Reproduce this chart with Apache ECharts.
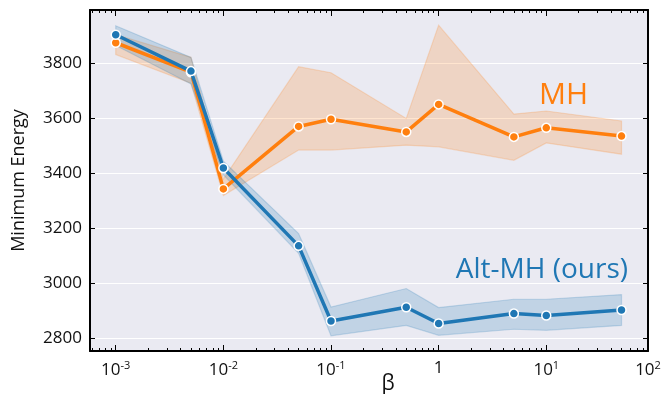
<!doctype html>
<html>
<head>
<meta charset="utf-8">
<title>Minimum Energy vs beta</title>
<script src="https://cdn.jsdelivr.net/npm/echarts@6/dist/echarts.min.js"></script>
<style>
  html, body { margin: 0; padding: 0; background: #fff; }
  #main { width: 672px; height: 394px; }
</style>
</head>
<body>
<div id="main"></div>
<script>

// beta values and results
var beta     = [0.001, 0.005, 0.01, 0.05, 0.1, 0.5, 1, 5, 10, 50];
var mhMean   = [3875, 3768, 3344, 3571, 3597, 3551, 3651, 3533, 3566, 3536];
var mhLow    = [3832, 3728, 3320, 3485, 3485, 3503, 3497, 3448, 3511, 3470];
var mhHigh   = [3905, 3822, 3380, 3788, 3766, 3600, 3939, 3616, 3627, 3591];
var altMean  = [3904, 3772, 3420, 3137, 2864, 2914, 2855, 2891, 2884, 2904];
var altLow   = [3865, 3725, 3395, 3110, 2810, 2848, 2812, 2834, 2830, 2848];
var altHigh  = [3937, 3822, 3445, 3182, 2915, 2982, 2913, 2943, 2943, 2960];

var yTicks = [2800, 3000, 3200, 3400, 3600, 3800];
var xTickExp = [-3, -2, -1, 0, 1, 2];

var X_MIN = -3.239, X_MAX = 1.945;
var Y_MIN = 2755, Y_MAX = 3994;

var ORANGE = '#ff7f0e', BLUE = '#1f77b4';
var FONT = 'Open Sans';

var lx = beta.map(function (b) { return Math.log10(b); });

var minorTicks = [];
for (var d = -4; d <= 1; d++) {
    for (var k = 2; k <= 9; k++) {
        var v = d + Math.log10(k);
        if (v > X_MIN && v < X_MAX) minorTicks.push(v);
    }
}
var majorTicks = xTickExp.filter(function (e) { return e < X_MAX; });
var labelPos = xTickExp.map(function (e) { return Math.min(e, X_MAX); });

function fmtX(v) {
    var e = Math.round(v);
    if (e === 0) return '{b|1}';
    return '{b|10}{s|' + e + '}';
}

function band(lo, hi, fill) {
    return {
        type: 'custom',
        z: 1,
        clip: true,
        silent: true,
        data: lx.map(function (x, i) { return [x, lo[i], hi[i]]; }),
        encode: { x: 0, y: [1, 2] },
        renderItem: function (params, api) {
            if (params.dataIndex !== 0) return null;
            var pts = [], i;
            for (i = 0; i < lx.length; i++) pts.push(api.coord([lx[i], hi[i]]));
            for (i = lx.length - 1; i >= 0; i--) pts.push(api.coord([lx[i], lo[i]]));
            return {
                type: 'polygon',
                shape: { points: pts },
                style: { fill: fill, stroke: fill, lineWidth: 1.2 }
            };
        }
    };
}

function line(vals, color, z) {
    return {
        type: 'line',
        z: z,
        data: lx.map(function (x, i) { return [x, vals[i]]; }),
        symbol: 'circle',
        symbolSize: 9,
        showSymbol: true,
        lineStyle: { color: color, width: 3.5 },
        itemStyle: { color: color, borderColor: '#fff', borderWidth: 1.5 }
    };
}

var tickBase = { show: true, inside: true, lineStyle: { color: '#000', width: 1 } };

function xAxisDef(pos, ticks, len, showLine, showLabel) {
    return {
        type: 'value',
        position: pos,
        min: X_MIN,
        max: X_MAX,
        axisLine: { show: showLine, onZero: false, lineStyle: { color: '#000', width: 2 } },
        axisTick: Object.assign({}, tickBase, { length: len, customValues: ticks }),
        axisLabel: showLabel ? {
            show: true,
            customValues: labelPos,
            margin: 9,
            formatter: fmtX,
            rich: {
                b: { fontFamily: FONT, fontSize: 17, color: '#111' },
                s: { fontFamily: FONT, fontSize: 11, color: '#111', padding: [0, 0, 9, 0] }
            }
        } : { show: false },
        splitLine: { show: false },
        name: showLabel ? 'β' : '',
        nameLocation: 'middle',
        nameGap: 23,
        nameMoveOverlap: false,
        nameTextStyle: { fontFamily: FONT, fontSize: 21, color: '#111', padding: [0, 0, 0, 38] }
    };
}

function yAxisDef(pos, showLabel) {
    return {
        type: 'value',
        position: pos,
        min: Y_MIN,
        max: Y_MAX,
        axisLine: { show: true, onZero: false, lineStyle: { color: '#000', width: 2 } },
        axisTick: Object.assign({}, tickBase, { length: 5, customValues: yTicks }),
        axisLabel: showLabel ? {
            customValues: yTicks, margin: 8, fontFamily: FONT, fontSize: 17, color: '#111',
            formatter: function (v) { return String(v); }
        } : { show: false },
        splitLine: { show: showLabel, lineStyle: { color: '#fff', width: 1.2 } },
        name: showLabel ? 'Minimum Energy' : '',
        nameLocation: 'middle',
        nameGap: 62,
        nameMoveOverlap: false,
        nameTextStyle: { fontFamily: FONT, fontSize: 18, color: '#111' }
    };
}

var chart = echarts.init(document.getElementById('main'), null, { renderer: 'canvas' });

chart.setOption({
    animation: false,
    backgroundColor: '#fff',
    grid: {
        left: 90, right: 24, top: 10, bottom: 43,
        containLabel: false,
        outerBoundsMode: 'none',
        show: true,
        backgroundColor: '#eaeaf2',
        borderWidth: 0
    },
    xAxis: [
        xAxisDef('bottom', majorTicks, 6, true, true),
        xAxisDef('top', majorTicks, 6, true, false),
        xAxisDef('bottom', minorTicks, 3, false, false),
        xAxisDef('top', minorTicks, 3, false, false)
    ],
    yAxis: [
        yAxisDef('left', true),
        yAxisDef('right', false)
    ],
    series: [
        band(mhLow, mhHigh, 'rgba(255,127,14,0.2)'),
        band(altLow, altHigh, 'rgba(31,119,180,0.2)'),
        line(mhMean, ORANGE, 3),
        line(altMean, BLUE, 4)
    ],
    graphic: [{
        type: 'text',
        right: 84,
        top: 80,
        style: { text: 'MH', fontFamily: FONT, fontSize: 30, fill: ORANGE }
    }, {
        type: 'text',
        right: 44,
        top: 256,
        style: { text: 'Alt-MH (ours)', fontFamily: FONT, fontSize: 28, fill: BLUE }
    }]
});
</script>
</body>
</html>
